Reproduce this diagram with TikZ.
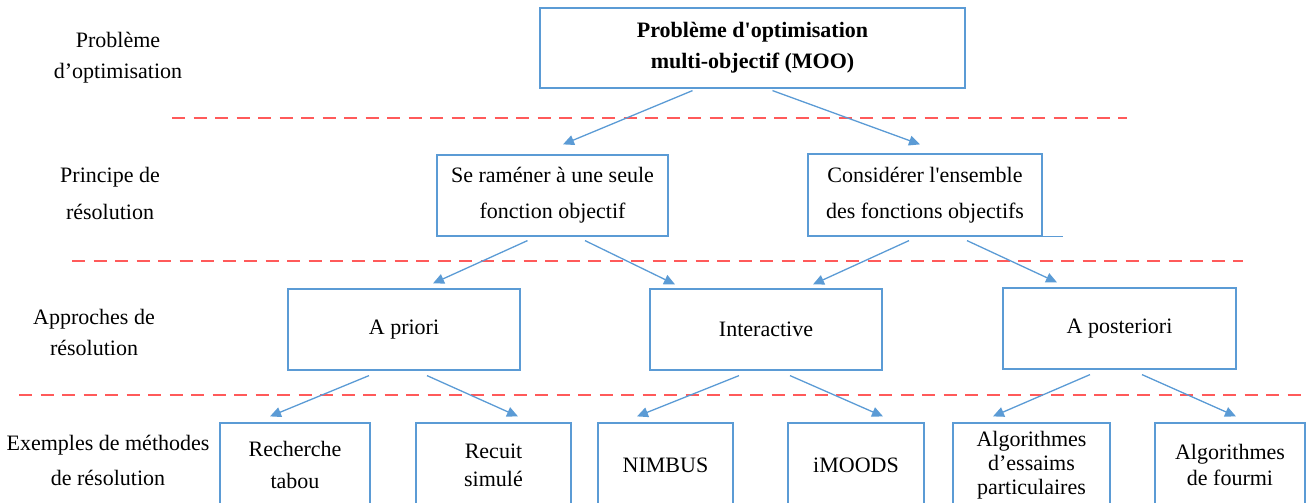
\documentclass[tikz,border=0pt]{standalone}
\usepackage{fontspec}
\setmainfont{Liberation Serif}
\usetikzlibrary{arrows.meta}
\definecolor{boxblue}{HTML}{5B9BD5}
\definecolor{sepred}{HTML}{FF5A5A}
\begin{document}
\begin{tikzpicture}[x=1pt,y=-1pt,
  box/.style={draw=boxblue, line width=1.2pt, fill=white, inner sep=0pt,
    align=center, font=\fontsize{22}{#1}\selectfont},
  box/.default=31,
  levellabel/.style={inner sep=0pt, align=center, font=\fontsize{22}{#1}\selectfont},
  levellabel/.default=31,
  arrow/.style={draw=boxblue, line width=1.3pt, -{Triangle[length=11pt,width=10pt]}},
  sepline/.style={draw=sepred, line width=1.6pt, dash pattern=on 13pt off 8.5pt}]
\useasboundingbox (0,0) rectangle (1307,503);
\clip (0,0) rectangle (1307,503);

% level separators
\draw[sepline] (172,118) -- (1127,118);
\draw[sepline] (72,261) -- (1243,261);
\draw[sepline] (19,395) -- (1307,395);

% level names
\node[levellabel=31] (l1) at (118,57.5) {Problème\\d’optimisation};
\node[levellabel=37] (l2) at (110,193.5) {Principe de\\résolution};
\node[levellabel=31] (l3) at (94,332.5) {Approches de\\résolution};
\node[levellabel=35] (l4) at (108,460) {Exemples de méthodes\\de résolution};

% level 1
\node[box=31, minimum width=425pt, minimum height=80pt] (moo) at (752.5,48)
  {\bfseries Problème d\textquotesingle optimisation\\\bfseries multi-objectif (MOO)};

% level 2
\node[box=36, minimum width=231pt, minimum height=81pt] (single) at (552.5,195.5)
  {Se raméner à une seule\\fonction objectif};
\node[box=36, minimum width=234pt, minimum height=82pt] (all) at (925,195)
  {Considérer l\textquotesingle ensemble\\des fonctions objectifs};
\draw[boxblue, line width=0.8pt] (all.south east) -- ([xshift=20pt]all.south east);

% level 3
\node[box, minimum width=232pt, minimum height=81pt] (apriori) at (404,329.5) {A priori};
\node[box, minimum width=232pt, minimum height=81pt] (inter) at (766,329.5) {Interactive};
\node[box, minimum width=233pt, minimum height=81pt] (apost) at (1119.5,328.5) {A posteriori};

% level 4
\node[box=32, minimum width=150pt, minimum height=84pt] (tabou) at (295,465) {Recherche\\tabou};
\node[box=28, minimum width=155pt, minimum height=84pt] (recuit) at (493.5,465) {Recuit\\simulé};
\node[box, minimum width=135pt, minimum height=84pt] (nimbus) at (665.5,465) {NIMBUS};
\node[box, minimum width=136pt, minimum height=84pt] (imoods) at (856,465) {iMOODS};
\node[box=24, minimum width=157pt, minimum height=84pt] (pso) at (1031.5,465)
  {Algorithmes\\d’essaims\\particulaires};
\node[box=26, minimum width=150pt, minimum height=84pt] (aco) at (1230,465)
  {Algorithmes\\de fourmi};

% connectors
\draw[arrow] ([xshift=-60pt,yshift=-2pt]moo.south) -- ([xshift=10.5pt,yshift=10pt]single.north);
\draw[arrow] ([xshift=20pt,yshift=-2pt]moo.south) -- ([xshift=-5pt,yshift=9pt]all.north);

\draw[arrow] ([xshift=-25pt,yshift=-4pt]single.south) -- ([xshift=29pt,yshift=5pt]apriori.north);
\draw[arrow] ([xshift=32.5pt,yshift=-4pt]single.south) -- ([xshift=-91pt,yshift=4pt]inter.north);
\draw[arrow] ([xshift=-16pt,yshift=-4pt]all.south) -- ([xshift=47pt,yshift=4pt]inter.north);
\draw[arrow] ([xshift=42pt,yshift=-4pt]all.south) -- ([xshift=-62.5pt,yshift=5pt]apost.north);

\draw[arrow] ([xshift=-35pt,yshift=-5pt]apriori.south) -- ([xshift=-25pt,yshift=6pt]tabou.north);
\draw[arrow] ([xshift=23pt,yshift=-5pt]apriori.south) -- ([xshift=24.5pt,yshift=6pt]recuit.north);
\draw[arrow] ([xshift=-27pt,yshift=-5pt]inter.south) -- ([xshift=-28.5pt,yshift=6pt]nimbus.north);
\draw[arrow] ([xshift=24pt,yshift=-5pt]inter.south) -- ([xshift=27pt,yshift=6pt]imoods.north);
\draw[arrow] ([xshift=-29.5pt,yshift=-5pt]apost.south) -- ([xshift=-38.5pt,yshift=6pt]pso.north);
\draw[arrow] ([xshift=22.5pt,yshift=-5pt]apost.south) -- ([xshift=6pt,yshift=6pt]aco.north);
\end{tikzpicture}
\end{document}
